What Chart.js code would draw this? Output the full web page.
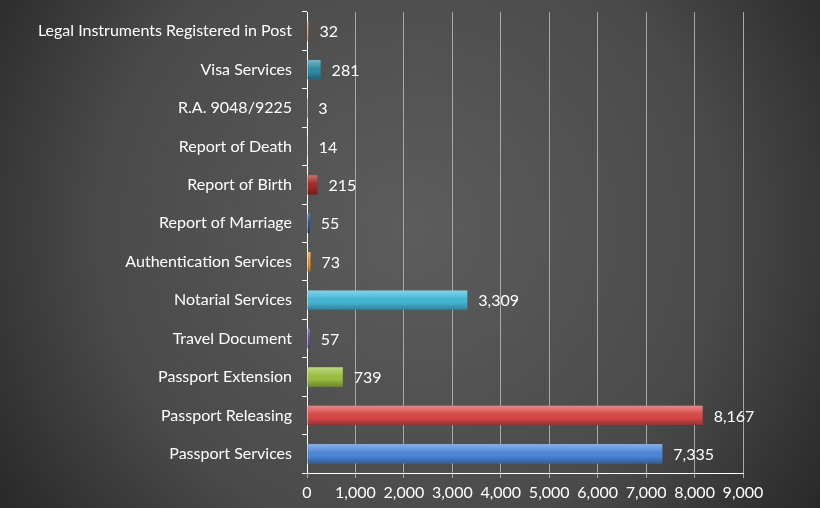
<!DOCTYPE html>
<html><head><meta charset="utf-8">
<script src="https://cdn.jsdelivr.net/npm/chart.js@4"></script>
<style>html,body{margin:0;padding:0;background:#3a3a3a;}#wrap{width:820px;height:508px;}</style>
</head><body><div id="wrap"><canvas id="c" width="820" height="508"></canvas></div>
<script>
const categories = ["Legal Instruments Registered in Post","Visa Services","R.A. 9048/9225","Report of Death","Report of Birth","Report of Marriage","Authentication Services","Notarial Services","Travel Document","Passport Extension","Passport Releasing","Passport Services"];
const values = [32,281,3,14,215,55,73,3309,57,739,8167,7335];
const barColors = ["#b8642a","#2e8ca5","#3d2f5a","#4e6128","#a02828","#1f4e99","#e89530","#45b8d8","#6a4aa0","#9bc040","#d94848","#4a86d8"];
const xTicks = [0,1000,2000,3000,4000,5000,6000,7000,8000,9000];
const FONT = "Lato";

const bgPlugin = {
  id:'bg',
  beforeDraw(chart){
    const ctx = chart.ctx, w = chart.width, h = chart.height;
    const g = ctx.createRadialGradient(w*0.5,h*0.45,10,w*0.5,h*0.45,w*0.62);
    g.addColorStop(0,'#5c5c5c');
    g.addColorStop(0.6,'#4a4a4a');
    g.addColorStop(1,'#262626');
    ctx.save(); ctx.fillStyle=g; ctx.fillRect(0,0,w,h); ctx.restore();
  }
};
const barFx = {
  id:'barFx',
  afterDatasetsDraw(chart){
    const ctx = chart.ctx;
    const meta = chart.getDatasetMeta(0);
    ctx.save();
    meta.data.forEach((bar,i)=>{
      const top = bar.y - bar.height/2, bot = bar.y + bar.height/2;
      const left = bar.base, right = bar.x;
      const g = ctx.createLinearGradient(0,top,0,bot);
      g.addColorStop(0,'rgba(255,255,255,0.35)');
      g.addColorStop(0.3,'rgba(255,255,255,0.12)');
      g.addColorStop(0.6,'rgba(0,0,0,0)');
      g.addColorStop(1,'rgba(0,0,0,0.3)');
      ctx.fillStyle = g;
      ctx.fillRect(left,top,right-left,bot-top);
      ctx.fillStyle = '#ffffff';
      ctx.font = '16px ' + FONT;
      ctx.textAlign = 'left'; ctx.textBaseline = 'middle';
      ctx.fillText(values[i].toLocaleString('en-US'), right + 11, bar.y + 1);
    });
    ctx.restore();
  }
};

new Chart(document.getElementById('c'), {
  type:'bar',
  data:{ labels:categories, datasets:[{ data:values, backgroundColor:barColors, borderWidth:0, barPercentage:0.9, categoryPercentage:0.56 }]},
  options:{
    indexAxis:'y', responsive:false, animation:false,
    layout:{ autoPadding:false, padding:{ top:12, right:77, left:0, bottom:0 } },
    plugins:{ legend:{display:false}, tooltip:{enabled:false} },
    scales:{
      x:{ min:0, max:9000,
          afterBuildTicks(s){ s.ticks = xTicks.map(v=>({value:v})); },
          afterFit(s){ s.height = 35; s.paddingLeft = 0; s.paddingRight = 0; },
          grid:{ color:'#a8a8a8', lineWidth:1, tickLength:5, drawTicks:true },
          border:{ color:'#ffffff', width:1 },
          ticks:{ color:'#ffffff', font:{family:FONT,size:16}, padding:5, callback:v=>v.toLocaleString('en-US') } },
      y:{ afterFit(s){ s.width = 307; s.paddingTop = 0; s.paddingBottom = 0; },
          grid:{ display:true, drawOnChartArea:false, offset:true, color:'#ffffff', tickLength:5 },
          border:{ color:'#ffffff', width:1 },
          ticks:{ color:'#ffffff', font:{family:FONT,size:16}, padding:10, autoSkip:false } }
    }
  },
  plugins:[bgPlugin, barFx]
});
</script></body></html>
